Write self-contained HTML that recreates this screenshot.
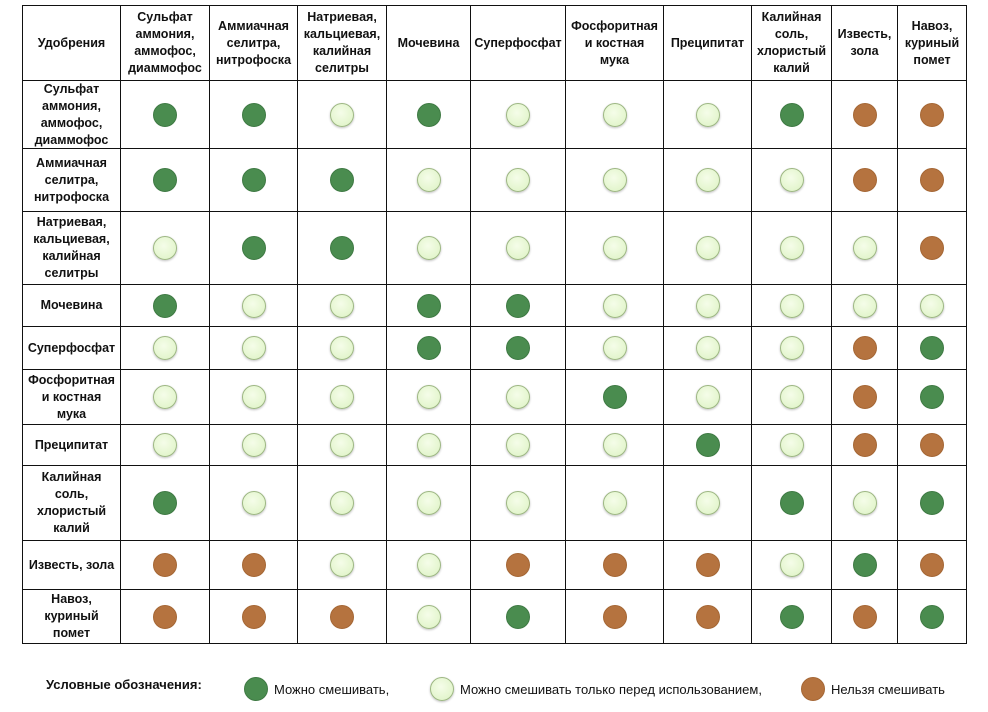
<!DOCTYPE html>
<html><head><meta charset="utf-8"><style>
body{margin:0;width:988px;height:712px;background:#fff;font-family:"Liberation Sans","DejaVu Sans",sans-serif;position:relative;overflow:hidden}
.cell{position:absolute;border:1px solid #111;box-sizing:border-box;display:flex;align-items:center;justify-content:center;text-align:center;font-weight:bold;font-size:12.5px;line-height:17px;color:#111;padding:0 4px}
.dot{width:24px;height:24px;border-radius:50%;box-sizing:border-box;flex:none}
.G{background:#4a8c4f;border:1px solid #3f7a44}
.L{background:radial-gradient(circle at 45% 40%,#f5fde9,#dcf2c2);border:1px solid #9db783;box-shadow:0 1px 2px rgba(0,0,0,.25)}
.B{background:#b5733f;border:1px solid #a56735}
.leg{position:absolute;top:677px;font-size:13px;color:#111;display:flex;align-items:center;gap:6px}
</style></head><body>
<div id="tbl"></div>
<div class="leg" style="left:46px;font-weight:bold">Условные обозначения:</div>
<div class="leg" style="left:244px"><div class="dot G"></div>Можно смешивать,</div>
<div class="leg" style="left:430px"><div class="dot L"></div>Можно смешивать только перед использованием,</div>
<div class="leg" style="left:801px"><div class="dot B"></div>Нельзя смешивать</div>
<script>
const headers=["Удобрения","Сульфат аммония, аммофос, диаммофос","Аммиачная селитра, нитрофоска","Натриевая, кальциевая, калийная селитры","Мочевина","Суперфосфат","Фосфоритная и костная мука","Преципитат","Калийная соль, хлористый калий","Известь, зола","Навоз, куриный помет"];
const rowLabels=["Сульфат аммония, аммофос, диаммофос","Аммиачная селитра, нитрофоска","Натриевая, кальциевая, калийная селитры","Мочевина","Суперфосфат","Фосфоритная и костная мука","Преципитат","Калийная соль, хлористый калий","Известь, зола","Навоз, куриный помет"];
const matrix=["GGLGLLLGBB","GGGLLLLLBB","LGGLLLLLLB","GLLGGLLLLL","LLLGGLLLBG","LLLLLGLLBG","LLLLLLGLBB","GLLLLLLGLG","BBLLBBBLGB","BBBLGBBGBG"];
const colX=[22,120,209,297,386,470,565,663,751,831,897,966];
const rowY=[5,80,148,211,284,326,369,424,465,540,589,643];
const t=document.getElementById('tbl');
for(let r=0;r<rowY.length-1;r++){for(let c=0;c<colX.length-1;c++){
 const d=document.createElement('div');d.className='cell';
 d.style.left=colX[c]+'px';d.style.top=rowY[r]+'px';
 d.style.width=(colX[c+1]-colX[c]+1)+'px';d.style.height=(rowY[r+1]-rowY[r]+1)+'px';
 if(r===0){d.textContent=headers[c];
  
  }
 else if(c===0){d.textContent=rowLabels[r-1];
  
  }
 else{
  
  const k=matrix[r-1][c-1];const dot=document.createElement('div');dot.className='dot '+k;
  
  
  d.appendChild(dot);}
 t.appendChild(d);}}
</script>
</body></html>
